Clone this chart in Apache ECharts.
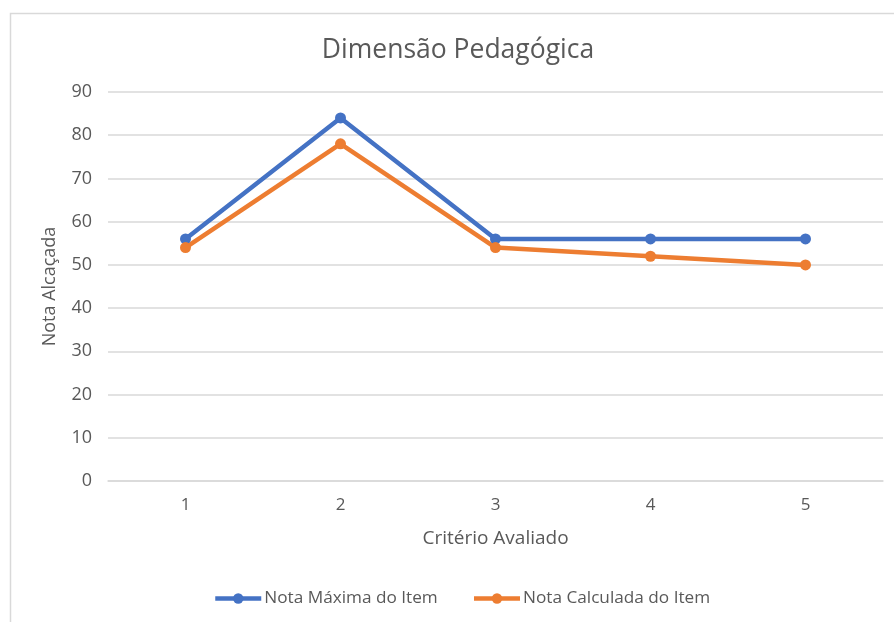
<!DOCTYPE html>
<html><head><meta charset="utf-8">
<script src="https://cdn.jsdelivr.net/npm/echarts@6/dist/echarts.min.js"></script>
<style>html,body{margin:0;padding:0;background:#fff}#c{width:894px;height:622px}</style>
</head><body><div id="c"></div>
<script>
var categories = ['1', '2', '3', '4', '5'];
var notaMaxima = [56, 84, 56, 56, 56];
var notaCalculada = [54, 78, 54, 52, 50];
var seriesNames = ['Nota Máxima do Item', 'Nota Calculada do Item'];
var titleText = 'Dimensão Pedagógica';
var yName = 'Nota Alcaçada';
var xName = 'Critério Avaliado';

var font = '"Open Sans", "Noto Sans", sans-serif';
var chart = echarts.init(document.getElementById('c'), null, {renderer: 'canvas'});
chart.setOption({
  animation: false,
  backgroundColor: '#fff',
  graphic: [{
    type: 'rect', left: 8, top: 11, silent: true, z: -1,
    shape: {width: 900, height: 700},
    style: {fill: 'none', stroke: '#d9d9d9', lineWidth: 1.5}
  }],
  title: {
    text: titleText, left: 453, textAlign: 'center', top: 32,
    textStyle: {fontFamily: font, fontSize: 26.5, fontWeight: 'normal', color: '#595959'}
  },
  grid: {left: 108, right: 11, top: 92, bottom: 141},
  legend: {
    data: seriesNames, bottom: 15, left: 213, padding: 0,
    itemWidth: 46, itemHeight: 13, itemGap: 34,
    lineStyle: {width: 4.5},
    textStyle: {fontFamily: font, fontSize: 17.2, color: '#595959', padding: [0, 0, 0, -2]}
  },
  xAxis: {
    type: 'category', data: categories, boundaryGap: true,
    name: xName, nameLocation: 'middle', nameGap: 48,
    nameTextStyle: {fontFamily: font, fontSize: 19, color: '#595959'},
    axisLine: {show: true, lineStyle: {color: '#d9d9d9', width: 1.5}},
    axisTick: {show: false},
    axisLabel: {fontFamily: font, fontSize: 17, color: '#595959', margin: 16}
  },
  yAxis: {
    type: 'value', min: 0, max: 90, interval: 10,
    name: yName, nameLocation: 'middle', nameGap: 49,
    nameTextStyle: {fontFamily: font, fontSize: 18, color: '#595959'},
    axisLine: {show: false}, axisTick: {show: false},
    axisLabel: {fontFamily: font, fontSize: 18, color: '#595959', margin: 16},
    splitLine: {lineStyle: {color: '#d9d9d9', width: 1.5}}
  },
  series: [{
    name: seriesNames[0], type: 'line', data: notaMaxima,
    symbol: 'circle', symbolSize: 11,
    lineStyle: {color: '#4472c4', width: 4.5},
    itemStyle: {color: '#4472c4'}
  }, {
    name: seriesNames[1], type: 'line', data: notaCalculada,
    symbol: 'circle', symbolSize: 11,
    lineStyle: {color: '#ed7d31', width: 4.5},
    itemStyle: {color: '#ed7d31'}
  }]
});
</script></body></html>
